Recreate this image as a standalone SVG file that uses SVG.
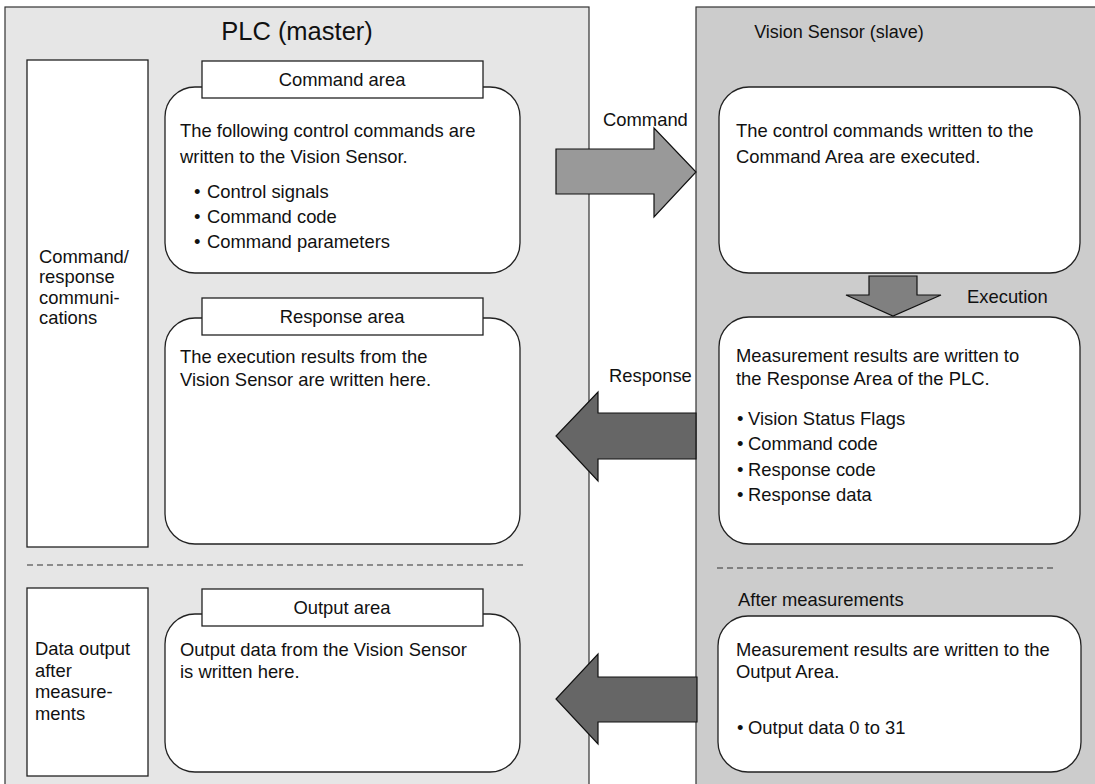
<svg xmlns="http://www.w3.org/2000/svg" width="1095" height="784" viewBox="0 0 1095 784">
<style>
text{font-family:"Liberation Sans",Arial,sans-serif;font-size:18.4px;fill:#111}
.panel{stroke:#333;stroke-width:1.2}
.box{fill:#fff;stroke:#222;stroke-width:1.3}
.dash{stroke:#333;stroke-width:1.2;stroke-dasharray:6 4;fill:none}
.arrow{stroke:#111;stroke-width:1.2}
.mid{text-anchor:middle}
</style>
<rect width="1095" height="784" fill="#fff"/>
<g id="plc">
<rect class="panel" x="5" y="7" width="584" height="790" fill="#e6e6e6"/>
<text class="mid" x="297" y="40" style="font-size:25.5px">PLC (master)</text>
</g>
<g id="vision">
<rect class="panel" x="696" y="7" width="410" height="790" fill="#cccccc"/>
<text class="mid" x="839" y="38" style="font-size:18px">Vision Sensor (slave)</text>
</g>
<g id="cmdresp-label">
<rect class="box" x="27" y="60" width="121" height="487"/>
<text x="39" y="263">Command/</text>
<text x="39" y="283">response</text>
<text x="39" y="304">communi-</text>
<text x="39" y="324">cations</text>
</g>
<g id="dataout-label">
<rect class="box" x="27" y="588" width="121" height="188"/>
<text x="35" y="655">Data output</text>
<text x="35" y="677">after</text>
<text x="35" y="698">measure-</text>
<text x="35" y="720">ments</text>
</g>
<g id="command-area">
<rect class="box" x="165" y="87" width="355" height="186" rx="30"/>
<rect class="box" x="202" y="61" width="281" height="37"/>
<text class="mid" x="342" y="86">Command area</text>
<text x="180" y="137">The following control commands are</text>
<text x="180" y="163">written to the Vision Sensor.</text>
<text y="198"><tspan x="194">•</tspan><tspan x="207">Control signals</tspan></text>
<text y="223"><tspan x="194">•</tspan><tspan x="207">Command code</tspan></text>
<text y="248"><tspan x="194">•</tspan><tspan x="207">Command parameters</tspan></text>
</g>
<g id="response-area">
<rect class="box" x="165" y="318" width="355" height="226" rx="30"/>
<rect class="box" x="202" y="298" width="281" height="37"/>
<text class="mid" x="342" y="323">Response area</text>
<text x="180" y="363">The execution results from the</text>
<text x="180" y="386">Vision Sensor are written here.</text>
</g>
<g id="output-area">
<rect class="box" x="165" y="614" width="355" height="158" rx="30"/>
<rect class="box" x="202" y="589" width="281" height="37"/>
<text class="mid" x="342" y="614">Output area</text>
<text x="180" y="656">Output data from the Vision Sensor</text>
<text x="180" y="678">is written here.</text>
</g>
<g id="vs-execute">
<rect class="box" x="719" y="87" width="361" height="186" rx="30"/>
<text x="736" y="137">The control commands written to the</text>
<text x="736" y="163">Command Area are executed.</text>
</g>
<g id="vs-response">
<rect class="box" x="719" y="317" width="361" height="227" rx="30"/>
<text x="736" y="362">Measurement results are written to</text>
<text x="736" y="385">the Response Area of the PLC.</text>
<text y="425"><tspan x="737">•</tspan><tspan x="748">Vision Status Flags</tspan></text>
<text y="450"><tspan x="737">•</tspan><tspan x="748">Command code</tspan></text>
<text y="476"><tspan x="737">•</tspan><tspan x="748">Response code</tspan></text>
<text y="501"><tspan x="737">•</tspan><tspan x="748">Response data</tspan></text>
</g>
<g id="vs-output">
<text x="738" y="606">After measurements</text>
<rect class="box" x="718" y="616" width="363" height="156" rx="30"/>
<text x="736" y="656">Measurement results are written to the</text>
<text x="736" y="678">Output Area.</text>
<text y="734"><tspan x="737">•</tspan><tspan x="748">Output data 0 to 31</tspan></text>
</g>
<g id="connectors">
<line class="dash" x1="27" y1="565" x2="523" y2="565"/>
<line class="dash" x1="717" y1="568" x2="1057" y2="568"/>
<polygon class="arrow" fill="#999999" points="556,149 654,149 654,128 696,172 654,217 654,194 556,194"/>
<text x="603" y="126">Command</text>
<polygon class="arrow" fill="#808080" points="869,276 917,276 917,295 941,295 893,316 846,295 869,295"/>
<text x="967" y="303">Execution</text>
<polygon class="arrow" fill="#666666" points="696,413 598,413 598,392 556,436 598,481 598,459 696,459"/>
<text x="609" y="382">Response</text>
<polygon class="arrow" fill="#666666" points="697,677 598,677 598,654 556,699 598,744 598,722 697,722"/>
</g>
</svg>
